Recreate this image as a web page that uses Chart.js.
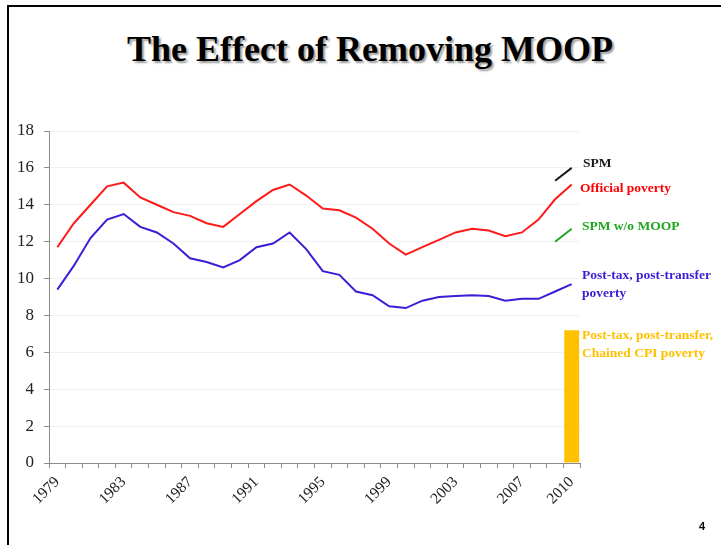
<!DOCTYPE html>
<html>
<head>
<meta charset="utf-8">
<script src="https://cdn.jsdelivr.net/npm/chart.js@4"></script>
<style>
  html, body { margin: 0; padding: 0; background: #fff; }
  #wrap { position: relative; width: 721px; height: 545px; overflow: hidden; }
  #frame { position: absolute; left: 7px; top: 5px; right: -10px; bottom: -10px;
           border-left: 2px solid #000; border-top: 2px solid #000; }
  #title { position: absolute; left: 0; width: 740px; top: 28px; text-align: center;
           font: bold 36px "Liberation Serif", serif; color: #000;
           text-shadow: 2px 2px 2px #9a9a9a; }
  #page { position: absolute; left: 699px; top: 520px; font: bold 11px "Liberation Sans", sans-serif; }
  canvas { position: absolute; left: 0; top: 0; }
</style>
</head>
<body>
<div id="wrap">
  <div id="frame"></div>
  <div id="title">The Effect of Removing MOOP</div>
  <canvas id="chart" width="721" height="545"></canvas>
  <div id="page">4</div>
</div>
<script>
const years = [];
for (let y = 1979; y <= 2010; y++) years.push(String(y));

const officialPoverty = [11.7, 13.0, 14.0, 15.0, 15.2, 14.4, 14.0, 13.6, 13.4, 13.0, 12.8, 13.5,
  14.2, 14.8, 15.1, 14.5, 13.8, 13.7, 13.3, 12.7, 11.9, 11.3, 11.7, 12.1, 12.5, 12.7, 12.6, 12.3,
  12.5, 13.2, 14.3, 15.1];
const postTaxPoverty = [9.4, 10.7, 12.2, 13.2, 13.5, 12.8, 12.5, 11.9, 11.1, 10.9, 10.6, 11.0,
  11.7, 11.9, 12.5, 11.6, 10.4, 10.2, 9.3, 9.1, 8.5, 8.4, 8.8, 9.0, 9.05, 9.1, 9.05, 8.8,
  8.9, 8.9, 9.3, 9.7];
// SPM only for the last two years
const spm = years.map(y => ({ '2009': 15.3, '2010': 16.0 })[y] ?? null);
const spmNoMoop = years.map(y => ({ '2009': 12.0, '2010': 12.7 })[y] ?? null);
const chainedCpi = years.map(y => (y === '2010' ? 7.2 : null));

const yTicks = [0, 2, 4, 6, 8, 10, 12, 14, 16, 18];

const RED = '#ff1a1a', BLUE = '#3a1ed6', BLACK = '#1a1a1a', GREEN = '#1fa51f', GOLD = '#ffc000';

// series names written to the right of the plot
const sideLabels = {
  id: 'sideLabels',
  afterDraw(chart) {
    const c = chart.ctx, x = chart.chartArea.right;
    c.save();
    c.font = 'bold 13.5px "Liberation Serif", serif';
    c.textBaseline = 'middle';
    const rows = [
      ['SPM', BLACK, 164, 3],
      ['Official poverty', '#ff0000', 189, 0],
      ['SPM w/o MOOP', GREEN, 227, 2],
      ['Post-tax, post-transfer', BLUE, 276, 2],
      ['poverty', BLUE, 294, 2],
      ['Post-tax, post-transfer,', GOLD, 336, 2],
      ['Chained CPI poverty', GOLD, 354, 2]
    ];
    rows.forEach(([t, col, y, dx]) => { c.fillStyle = col; c.fillText(t, x + dx, y); });
    c.restore();
  }
};

const serif = '"Liberation Serif", "Times New Roman", serif';

new Chart(document.getElementById('chart'), {
  data: {
    labels: years,
    datasets: [
      { type: 'bar', label: 'Post-tax, post-transfer, Chained CPI poverty', data: chainedCpi,
        backgroundColor: GOLD, barPercentage: 0.9, categoryPercentage: 1.0, order: 5 },
      { type: 'line', label: 'Official poverty', data: officialPoverty, borderColor: RED,
        borderWidth: 2, pointRadius: 0, tension: 0, order: 1 },
      { type: 'line', label: 'Post-tax, post-transfer poverty', data: postTaxPoverty, borderColor: BLUE,
        borderWidth: 2, pointRadius: 0, tension: 0, order: 2 },
      { type: 'line', label: 'SPM', data: spm, borderColor: BLACK,
        borderWidth: 2, pointRadius: 0, tension: 0, order: 3 },
      { type: 'line', label: 'SPM w/o MOOP', data: spmNoMoop, borderColor: GREEN,
        borderWidth: 2, pointRadius: 0, tension: 0, order: 4 }
    ]
  },
  options: {
    responsive: false,
    animation: false,
    layout: { padding: { top: 131, right: 141, left: 0, bottom: 0 } },
    plugins: { legend: { display: false }, tooltip: { enabled: false } },
    scales: {
      x: {
        type: 'category',
        offset: true,
        grid: { offset: true, drawOnChartArea: false, drawTicks: true, tickLength: 5, color: '#8c8c8c' },
        border: { color: '#8c8c8c' },
        ticks: {
          autoSkip: false, maxRotation: 45, minRotation: 45, padding: 5,
          color: '#222', font: { family: serif, size: 15.5 },
          callback(v, i) {
            const y = Number(years[i]);
            return ((y - 1979) % 4 === 0 || y === 2010) ? years[i] : '';
          }
        },
        afterFit(scale) { scale.height = 82; }
      },
      y: {
        min: 0, max: 18,
        afterBuildTicks(scale) { scale.ticks = yTicks.map(v => ({ value: v })); },
        grid: { color: '#f1f1f1', tickColor: '#8c8c8c', tickLength: 5 },
        border: { color: '#8c8c8c' },
        ticks: { color: '#222', padding: 10, font: { family: serif, size: 17 } },
        afterFit(scale) { scale.width = 49; }
      }
    }
  },
  plugins: [sideLabels]
});
</script>
</body>
</html>
